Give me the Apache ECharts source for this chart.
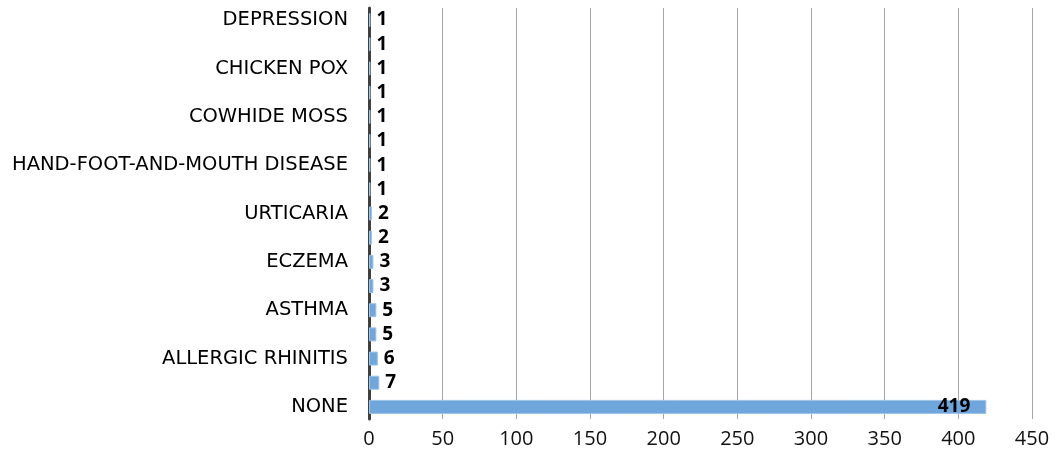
<!DOCTYPE html>
<html>
<head>
<meta charset="utf-8">
<script src="https://cdn.jsdelivr.net/npm/echarts@6/dist/echarts.min.js"></script>
<style>
  html, body { margin: 0; padding: 0; background: #fff; }
  #chart { width: 1061px; height: 460px; }
</style>
</head>
<body>
<div id="chart"></div>
<script>
// Categories listed bottom to top; only every other one carries a printed name.
const categories = [
  'NONE', '', 'ALLERGIC RHINITIS', '', 'ASTHMA', '', 'ECZEMA', '', 'URTICARIA', '',
  'HAND-FOOT-AND-MOUTH DISEASE', '', 'COWHIDE MOSS', '', 'CHICKEN POX', '', 'DEPRESSION'
];
const counts = [419, 7, 6, 5, 5, 3, 3, 2, 2, 1, 1, 1, 1, 1, 1, 1, 1];
const xTicks = { min: 0, max: 450, interval: 50 };

const barColor = '#6fa6dc';
const largest = Math.max(...counts);

const seriesData = counts.map(v => ({
  value: v,
  label: v === largest
    ? { position: 'insideRight', distance: 16 }
    : { position: 'right', distance: 6 }
}));

const chart = echarts.init(document.getElementById('chart'), null, { renderer: 'canvas' });
chart.setOption({
  animation: false,
  backgroundColor: '#ffffff',
  grid: { left: 369, right: 29, top: 8, bottom: 41, containLabel: false },
  xAxis: {
    type: 'value',
    min: xTicks.min, max: xTicks.max, interval: xTicks.interval,
    axisLine: { show: false },
    axisTick: { show: false },
    splitLine: { show: true, lineStyle: { color: '#a6a6a6', width: 1 } },
    axisLabel: {
      color: '#111', fontSize: 20, margin: 10,
      fontFamily: 'Open Sans'
    }
  },
  yAxis: {
    type: 'category',
    data: categories,
    axisLine: { show: true, lineStyle: { color: '#404040', width: 3 } },
    axisTick: { show: false },
    axisLabel: {
      interval: 1, color: '#000', fontSize: 19.5, margin: 21,
      fontFamily: 'DejaVu Sans'
    }
  },
  series: [{
    type: 'bar',
    data: seriesData,
    barCategoryGap: '42%',
    itemStyle: { color: barColor, borderColor: '#9cc3e8', borderWidth: 1 },
    label: {
      show: true, color: '#000', fontWeight: 'bold', fontSize: 19,
      fontFamily: 'Open Sans'
    }
  }]
});
</script>
</body>
</html>
